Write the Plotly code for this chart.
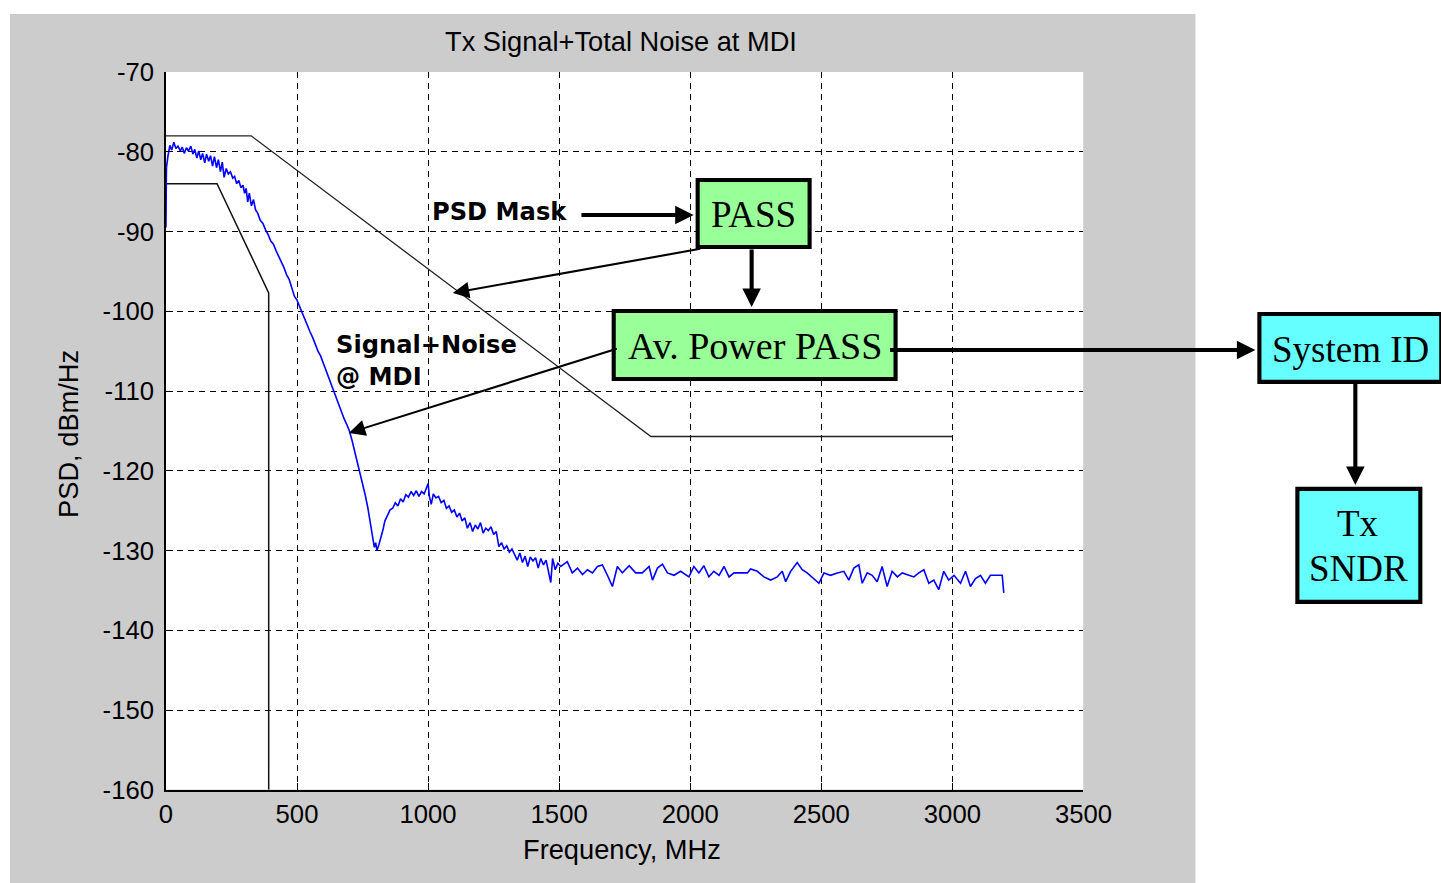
import plotly.graph_objects as go

# Rendering of this page is observed as: screen = offset + scale * figure_px.
# Design the figure in reference-screen pixels and convert.
SX, SY = 0.976, 0.969
OX, OY = 6.0, 14.0
REF_W, REF_H = 1441, 883
W = int(round((REF_W - OX) / SX)) + 1
H = int(round((REF_H - OY) / SY)) + 1
K = 1 / ((SX + SY) / 2)      # font / width compensation

# ---------------- data ----------------
freq_sig = [0, 2, 8, 15, 22, 30, 38, 46, 55, 62, 70, 78, 86, 95, 103, 110, 118, 125, 133, 140,
            148, 155, 163, 170, 178, 185, 193, 200, 208, 215, 222, 230, 238, 246, 255, 262, 270,
            278, 286, 294, 300, 306, 312, 318, 326, 334, 342, 350, 360, 370, 380, 390, 400, 410,
            420, 430, 440, 450, 460, 470, 480, 490, 500, 510, 520, 530, 540, 550, 560, 570, 580,
            590, 600, 610, 620, 630, 640, 650, 660, 670, 680, 690, 700, 710, 720, 730, 740, 750,
            760, 770, 780, 788, 795, 800, 805, 812, 820, 828, 835, 845, 855, 865, 875, 885, 895,
            905, 915, 925, 935, 945, 955, 965, 975, 985, 995, 1000, 1005, 1012, 1020, 1030, 1040,
            1050, 1060, 1070, 1080, 1090, 1100, 1110, 1120, 1130, 1140, 1150, 1160, 1170, 1180,
            1190, 1200, 1210, 1220, 1230, 1240, 1250, 1260, 1270, 1280, 1290, 1300, 1310, 1320,
            1330, 1340, 1350, 1360, 1370, 1380, 1390, 1400, 1410, 1420, 1430, 1440, 1450, 1460,
            1468, 1475, 1485, 1495, 1506, 1531, 1550, 1570, 1589, 1608, 1627, 1646, 1665, 1684,
            1703, 1722, 1741, 1767, 1792, 1817, 1843, 1856, 1875, 1894, 1913, 1938, 1963, 1995,
            2014, 2033, 2052, 2071, 2090, 2110, 2129, 2148, 2167, 2192, 2218, 2230, 2256, 2281,
            2307, 2332, 2351, 2364, 2383, 2408, 2427, 2446, 2472, 2491, 2510, 2535, 2561, 2586,
            2605, 2624, 2643, 2656, 2675, 2694, 2713, 2732, 2751, 2770, 2790, 2809, 2834, 2853,
            2872, 2891, 2910, 2929, 2948, 2967, 2986, 3006, 3031, 3050, 3069, 3088, 3107, 3126,
            3145, 3171, 3190, 3196]
psd_sig = [-89.5, -82.0, -80.5, -79.2, -79.8, -78.8, -79.6, -79.3, -79.9, -79.4, -80.2, -79.5,
           -79.9, -79.3, -80.3, -79.7, -80.8, -79.9, -81.0, -80.2, -81.4, -80.3, -81.2, -80.5,
           -81.8, -80.6, -82.0, -81.0, -82.5, -81.3, -83.2, -82.1, -82.8, -82.5, -83.3, -83.1,
           -84.0, -83.6, -84.5, -84.2, -85.2, -84.6, -86.3, -85.2, -86.8, -86.0, -87.3, -87.7,
           -88.6, -89.0, -89.8, -90.4, -91.2, -91.6, -92.4, -93.2, -93.8, -94.5, -95.4, -96.0,
           -97.2, -98.1, -98.6, -99.4, -100.4, -101.0, -101.8, -102.6, -103.3, -104.3, -105.0,
           -105.6, -106.5, -107.3, -108.2, -109.0, -110.0, -110.8, -111.6, -112.5, -113.5,
           -114.2, -115.0, -116.2, -117.5, -118.8, -120.2, -121.6, -123.0, -124.6, -126.5,
           -128.5, -129.6, -129.0, -130.0, -129.3, -128.5, -127.4, -126.3, -125.6, -124.9,
           -124.7, -124.0, -124.4, -123.5, -123.9, -123.0, -123.3, -122.6, -123.1, -122.5,
           -123.2, -122.6, -122.9, -121.9, -121.6, -123.2, -124.2, -122.9, -123.4, -123.2,
           -124.0, -123.7, -124.7, -124.4, -125.2, -124.9, -125.8, -125.3, -126.3, -125.9,
           -127.2, -126.5, -127.6, -126.8, -127.3, -126.5, -127.8, -127.2, -127.5, -127.0,
           -128.0, -127.6, -129.5, -129.0, -129.8, -129.4, -130.2, -129.8, -130.6, -131.2,
           -130.3, -131.5, -130.7, -132.0, -130.8, -131.3, -130.9, -132.2, -131.0, -131.8,
           -131.2, -133.0, -134.0, -131.0, -132.4, -131.6, -132.0, -131.4, -132.8, -132.2,
           -133.0, -132.4, -132.8, -132.0, -131.8, -133.1, -134.5, -132.0, -132.8, -131.9,
           -132.8, -132.8, -132.0, -133.7, -132.2, -131.7, -132.8, -133.1, -132.6, -133.3,
           -132.0, -132.8, -131.9, -133.3, -132.6, -133.1, -132.0, -133.3, -132.8, -132.8,
           -132.8, -132.3, -132.6, -133.3, -133.7, -133.3, -132.6, -133.9, -132.6, -131.5,
           -132.4, -132.8, -133.5, -134.1, -132.8, -133.1, -132.8, -132.6, -133.7, -132.2,
           -131.8, -134.1, -132.8, -133.1, -133.9, -132.0, -134.5, -132.6, -133.3, -132.8,
           -133.1, -133.3, -132.8, -132.4, -134.1, -133.7, -134.9, -132.6, -133.7, -133.1,
           -134.1, -132.6, -134.5, -133.5, -133.1, -134.1, -133.1, -133.1, -133.1, -135.3]

mask_upper_f = [0, 325, 1850, 3000]
mask_upper_db = [-78.0, -78.0, -115.7, -115.7]
mask_lower_f = [0, 195, 392, 392]
mask_lower_db = [-84.0, -84.0, -97.7, -160.0]

x_ticks = [0, 500, 1000, 1500, 2000, 2500, 3000, 3500]
x_tick_labels = ["0", "500", "1000", "1500", "2000", "2500", "3000", "3500"]
y_ticks = [-70, -80, -90, -100, -110, -120, -130, -140, -150, -160]
y_tick_labels = ["-70", "-80", "-90", "-100", "-110", "-120", "-130", "-140", "-150", "-160"]

# ---------------- helpers (reference screen pixel -> figure) ----------------
def fx(x):
    return (x - OX) / SX

def fy(y):
    return (y - OY) / SY

def px(x):
    return fx(x) / W

def py(y):
    return 1 - fy(y) / H

AX_FONT = "Liberation Sans, Arial, sans-serif"
BOLD_FONT = "DejaVu Sans, Verdana, sans-serif"
SERIF = "Liberation Serif, Times New Roman, serif"

fig = go.Figure()

fig.add_trace(go.Scatter(x=mask_upper_f, y=mask_upper_db, mode="lines",
                         line=dict(color="#222222", width=1.3), showlegend=False,
                         hoverinfo="skip"))
fig.add_trace(go.Scatter(x=mask_lower_f, y=mask_lower_db, mode="lines",
                         line=dict(color="#111111", width=1.5), showlegend=False,
                         hoverinfo="skip"))
fig.add_trace(go.Scatter(x=freq_sig, y=psd_sig, mode="lines",
                         line=dict(color="#0000ff", width=1.6), showlegend=False))

shapes = []
shapes.append(dict(type="rect", xref="paper", yref="paper", x0=px(9), x1=px(1195),
                   y0=0, y1=1, fillcolor="#cccccc", line=dict(width=0), layer="below"))
shapes.append(dict(type="rect", xref="x", yref="y", x0=0, x1=3500, y0=-160, y1=-70,
                   fillcolor="white", line=dict(width=0), layer="below"))

def box(x0, y0, x1, y1, color):
    shapes.append(dict(type="rect", xref="paper", yref="paper",
                       x0=px(x0 + 2), x1=px(x1 - 2), y0=py(y1 - 2), y1=py(y0 + 2),
                       fillcolor=color, line=dict(color="black", width=4 * K), layer="above"))

GREEN = "#99ff99"
CYAN = "#66ffff"
box(695, 178, 811, 249, GREEN)
box(611, 309, 897, 381, GREEN)
box(1257, 312, 1443, 384, CYAN)
box(1295, 487, 1422, 604, CYAN)

annotations = []

def text(x, y, s, size, family, xanchor="center", color="black"):
    annotations.append(dict(xref="paper", yref="paper", x=px(x), y=py(y), text=s,
                            showarrow=False, xanchor=xanchor, yanchor="middle",
                            font=dict(size=size * K, family=family, color=color)))

def arrow(x_tail, y_tail, x_head, y_head, width, size):
    annotations.append(dict(xref="paper", yref="paper", x=px(x_head), y=py(y_head),
                            axref="pixel", ayref="pixel",
                            ax=fx(x_tail) - fx(x_head), ay=fy(y_tail) - fy(y_head), text="",
                            showarrow=True, arrowhead=2, arrowwidth=width * K,
                            arrowsize=size, arrowcolor="black", standoff=0, startstandoff=0))

text(620, 42, "Tx Signal+Total Noise at MDI", 26.5, AX_FONT)
text(621, 850, "Frequency, MHz", 26.5, AX_FONT)
annotations.append(dict(xref="paper", yref="paper", x=px(68), y=py(434),
                        text="PSD, dBm/Hz", showarrow=False, textangle=-90,
                        xanchor="center", yanchor="middle",
                        font=dict(size=26.5 * K, family=AX_FONT, color="black")))

text(429, 212, "<b>PSD Mask</b>", 23.5, BOLD_FONT, xanchor="left")
text(333, 345, "<b>Signal+Noise</b>", 23.5, BOLD_FONT, xanchor="left")
text(333, 377, "<b>@ MDI</b>", 23.5, BOLD_FONT, xanchor="left")

text(753, 215, "PASS", 36, SERIF)
text(754, 346, "Av. Power PASS", 37, SERIF)
text(1350, 350, "System ID", 36, SERIF)
text(1358, 524, "Tx", 36, SERIF)
text(1358, 569, "SNDR", 36, SERIF)

arrow(582, 215, 693, 215, 4, 0.9)
arrow(751, 250, 751, 307, 4, 0.9)
arrow(695, 250, 452, 293, 2, 1.6)
arrow(611, 351, 348, 433, 2, 1.6)
arrow(897, 350, 1255, 350, 4, 0.9)
arrow(1355, 384, 1355, 485, 4, 0.9)

axis_common = dict(showline=True, linecolor="black", linewidth=1.5, mirror=False,
                   showgrid=True, gridcolor="black", gridwidth=1, griddash="6px,5px",
                   zeroline=False, ticks="inside", ticklen=7, tickcolor="black",
                   tickfont=dict(size=25 * K, family=AX_FONT, color="black"))

fig.update_layout(
    width=W, height=H,
    autosize=False,
    margin=dict(l=0, r=0, t=0, b=0, pad=0),
    paper_bgcolor="white",
    plot_bgcolor="rgba(0,0,0,0)",
    xaxis=dict(range=[0, 3500], domain=[px(165), px(1083)], tickvals=x_ticks,
               ticktext=x_tick_labels, ticklabelstandoff=1, **axis_common),
    yaxis=dict(range=[-160, -70], domain=[py(790), py(72)], tickvals=y_ticks,
               ticktext=y_tick_labels, ticklabelstandoff=5, **axis_common),
    shapes=shapes,
    annotations=annotations,
    showlegend=False,
)

fig.write_html("out.html", config={"responsive": False, "displayModeBar": False})
